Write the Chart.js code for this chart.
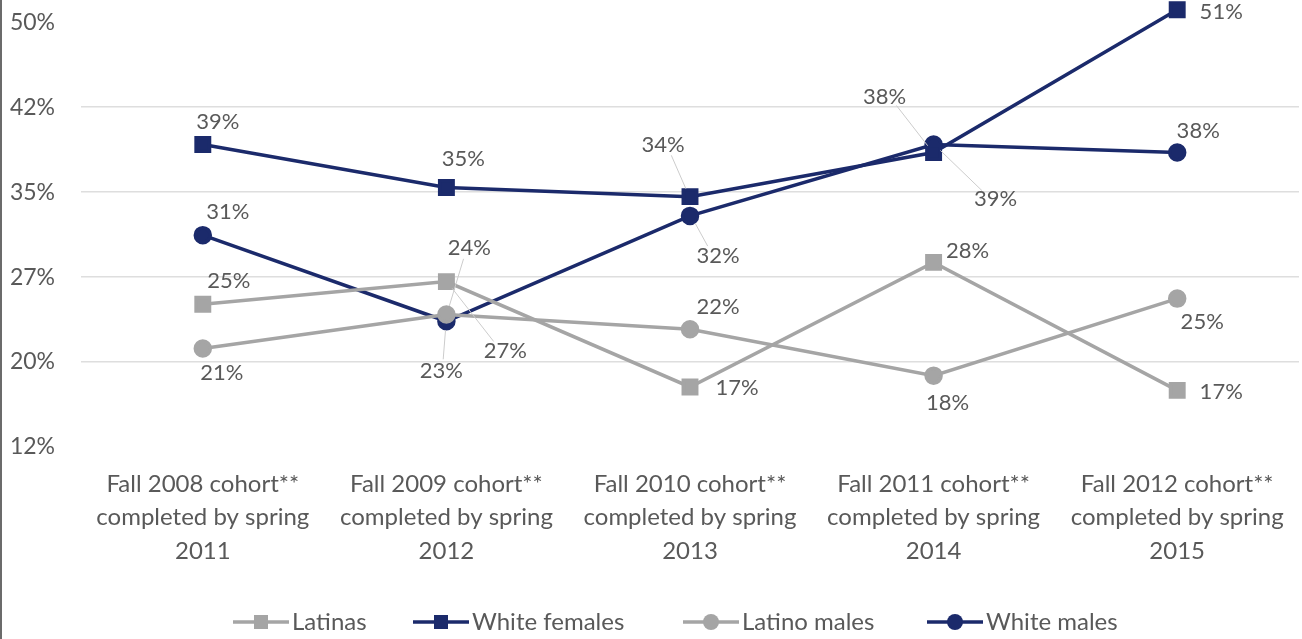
<!DOCTYPE html>
<html>
<head>
<meta charset="utf-8">
<script src="https://cdn.jsdelivr.net/npm/chart.js@4/dist/chart.umd.min.js"></script>
<style>
  html, body { margin: 0; padding: 0; background: #fff; }
  #wrap { width: 1302px; height: 639px; position: relative; }
</style>
</head>
<body>
<div id="wrap"><canvas id="chart"></canvas></div>
<script>
const cohorts = [
  ['Fall 2008 cohort**', 'completed by spring', '2011'],
  ['Fall 2009 cohort**', 'completed by spring', '2012'],
  ['Fall 2010 cohort**', 'completed by spring', '2013'],
  ['Fall 2011 cohort**', 'completed by spring', '2014'],
  ['Fall 2012 cohort**', 'completed by spring', '2015']
];

// completion rates, percent
const latinas = [25.1, 27.1, 17.8, 28.8, 17.5];
const whiteFemales = [39.2, 35.4, 34.6, 38.5, 51.1];
const latinoMales = [21.2, 24.2, 22.9, 18.8, 25.6];
const whiteMales = [31.2, 23.6, 32.9, 39.2, 38.5];

const yTicks = [12.5, 20, 27.5, 35, 42.5, 50];

const NAVY = '#1b2a6b';
const GRAY = '#a5a5a5';
const TEXT = '#595959';
const FONT = 'Lato, "Open Sans", sans-serif';

// label offsets (dx, dy from the point) and optional leader lines, per series
const labelPlacement = {
  'Latinas':      [[26, -23], [59, 69, true], [47, 1], [34, -11], [44, 2]],
  'White females':[[15, -23], [17, -29], [-27, -52, true], [-49, -56, true], [44, 2]],
  'Latino males': [[19, 24], [23, -67, true], [28, -22], [14, 27], [25, 23]],
  'White males':  [[25, -23], [-5, 50, true], [28, 40, true], [62, 54, true], [21, -22]]
};

// legend item start positions along the bottom row
const legendX = [233, 413, 683, 927];

const fmt = v => Math.floor(v) + '%';

const valueLabels = {
  id: 'valueLabels',
  afterDatasetsDraw(chart) {
    const ctx = chart.ctx;
    ctx.save();
    ctx.font = '22px ' + FONT;
    ctx.fillStyle = TEXT;
    ctx.textAlign = 'center';
    ctx.textBaseline = 'middle';
    chart.data.datasets.forEach((ds, i) => {
      const meta = chart.getDatasetMeta(i);
      const place = labelPlacement[ds.label];
      meta.data.forEach((pt, j) => {
        const [dx, dy, leader] = place[j];
        const lx = pt.x + dx, ly = pt.y + dy;
        if (leader) {
          // short connector between the label and its marker
          const len = Math.hypot(dx, dy);
          const ux = dx / len, uy = dy / len;
          ctx.strokeStyle = '#cccccc';
          ctx.lineWidth = 1;
          ctx.beginPath();
          ctx.moveTo(pt.x + ux * 9, pt.y + uy * 9);
          ctx.lineTo(lx - ux * 18, ly - uy * 12);
          ctx.stroke();
        }
        ctx.fillText(fmt(ds.data[j]), lx, ly);
      });
    });
    ctx.restore();
  }
};

// line-and-marker legend along the bottom, plus the left frame edge
const bottomLegend = {
  id: 'bottomLegend',
  afterDraw(chart) {
    const ctx = chart.ctx;
    ctx.save();
    ctx.fillStyle = '#6b6b6b';
    ctx.fillRect(0, 0, 2, chart.height);
    ctx.font = '24px ' + FONT;
    ctx.textBaseline = 'middle';
    ctx.textAlign = 'left';
    const y = 622;
    chart.data.datasets.forEach((ds, i) => {
      const x = legendX[i];
      ctx.strokeStyle = ds.borderColor;
      ctx.lineWidth = 3.5;
      ctx.beginPath();
      ctx.moveTo(x, y);
      ctx.lineTo(x + 56, y);
      ctx.stroke();
      ctx.fillStyle = ds.borderColor;
      if (ds.pointStyle === 'rect') {
        ctx.fillRect(x + 21, y - 7, 14, 14);
      } else {
        ctx.beginPath();
        ctx.arc(x + 28, y, 8, 0, Math.PI * 2);
        ctx.fill();
      }
      ctx.fillStyle = TEXT;
      ctx.fillText(ds.label, x + 59, y);
    });
    ctx.restore();
  }
};

function series(label, data, color, style) {
  return {
    label, data,
    borderColor: color,
    backgroundColor: color,
    borderWidth: 3.5,
    pointStyle: style,
    pointRadius: style === 'rect' ? 9.5 : 7.5,
    pointHoverRadius: 8,
    tension: 0,
    clip: false
  };
}

new Chart(document.getElementById('chart'), {
  type: 'line',
  data: {
    labels: cohorts,
    datasets: [
      series('Latinas', latinas, GRAY, 'rect'),
      series('White females', whiteFemales, NAVY, 'rect'),
      series('Latino males', latinoMales, GRAY, 'circle'),
      series('White males', whiteMales, NAVY, 'circle')
    ]
  },
  options: {
    responsive: true,
    maintainAspectRatio: false,
    animation: false,
    layout: { autoPadding: false, padding: { top: 12, right: 3, left: 0, bottom: 0 } },
    plugins: {
      legend: { display: false },
      tooltip: { enabled: false }
    },
    scales: {
      x: {
        offset: true,
        grid: { display: false, drawTicks: false },
        border: { display: false },
        ticks: {
          color: TEXT,
          font: { family: FONT, size: 24, lineHeight: 1.4 },
          padding: 20,
          maxRotation: 0,
          autoSkip: false
        },
        afterFit(s) { s.height = 192; s.paddingLeft = 0; s.paddingRight = 0; }
      },
      y: {
        min: 12.5,
        max: 50.9,
        afterBuildTicks(s) { s.ticks = yTicks.map(v => ({ value: v })); },
        grid: {
          drawTicks: false,
          color: ctx => (ctx.tick && (ctx.tick.value === 50 || ctx.tick.value === 12.5)) ? 'rgba(0,0,0,0)' : '#dedede',
          lineWidth: 1.5
        },
        border: { display: false },
        ticks: {
          color: TEXT,
          font: { family: FONT, size: 23 },
          padding: 26,
          callback: v => fmt(v)
        },
        afterFit(s) { s.width = 81; s.paddingTop = 0; s.paddingBottom = 0; }
      }
    }
  },
  plugins: [valueLabels, bottomLegend]
});
</script>
</body>
</html>
